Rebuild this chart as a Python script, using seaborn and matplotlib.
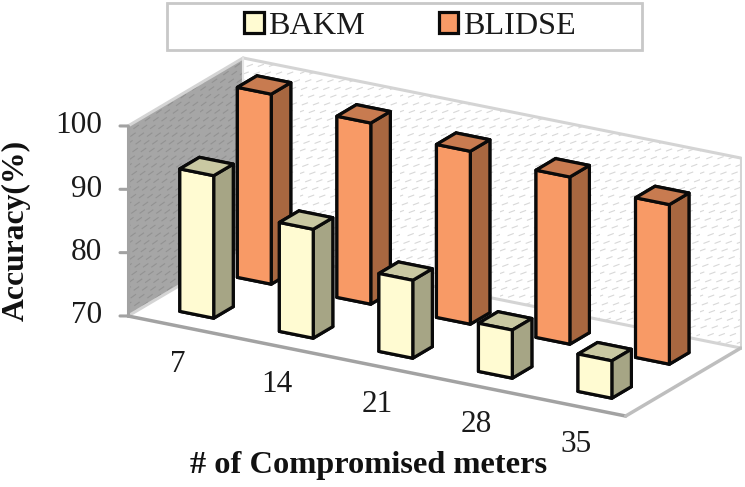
import numpy as np
import pandas as pd
import seaborn as sns
import matplotlib
matplotlib.use("Agg")
import matplotlib.pyplot as plt
from matplotlib import hatch as mhatch
from matplotlib.path import Path
from matplotlib.patches import Patch, Rectangle
from mpl_toolkits.mplot3d import proj3d
from mpl_toolkits.mplot3d.art3d import Poly3DCollection

meters = [7, 14, 21, 28, 35]
bakm = [92.5, 87.2, 82.3, 77.6, 75.9]
blidse = [100.0, 98.6, 97.3, 96.4, 95.2]
yticks = [70, 80, 90, 100]
series_names = ["BAKM", "BLIDSE"]

df = pd.DataFrame({"meters": meters, "BAKM": bakm, "BLIDSE": blidse}).melt(
    id_vars="meters", var_name="method", value_name="accuracy")

W, H = 745, 487
sns.set_theme(style="white")
plt.rcParams["font.family"] = ["Liberation Serif", "DejaVu Serif"]
plt.rcParams["hatch.linewidth"] = 0.8


class WallDash(mhatch.HatchPatternBase):
    """Short slanted dashes, as in the spreadsheet's wall texture."""
    layouts = {"O": (9, 13, 5.5, 0.36), "*": (12, 13, 5.5, 0.62)}

    def __init__(self, hatch, density):
        self.spec = next((self.layouts[c] for c in hatch if c in self.layouts), None)
        self.num_vertices = 0 if self.spec is None else 2 * self.spec[0] * self.spec[1]

    def set_vertices_and_codes(self, vertices, codes):
        nx, ny, length, angle = self.spec
        ln = length / 100.0
        k = 0
        for r in range(ny):
            for c in range(nx):
                cx = (c + 0.37 * r) / nx % 1.0
                cy = (r + 0.5) / ny
                dx, dy = ln * np.cos(angle) / 2, ln * np.sin(angle) / 2
                vertices[k] = (cx - dx, cy - dy)
                vertices[k + 1] = (cx + dx, cy + dy)
                codes[k] = Path.MOVETO
                codes[k + 1] = Path.LINETO
                k += 2


mhatch._hatch_types = [t for t in mhatch._hatch_types
                       if t.__name__ not in ("LargeCircles", "Stars")] + [WallDash]

fig = plt.figure(figsize=(W / 100, H / 100), dpi=100, facecolor="white")
ax = fig.add_axes([0, 0, 1, 1], projection="3d", computed_zorder=False)
ax.set_proj_type("ortho")
ax.view_init(elev=20.16, azim=-59.75)
ax.set_box_aspect((575, 228, 202))
ax.set_xlim(0, 5, view_margin=0)
ax.set_ylim(0, 2, view_margin=0)
ax.set_zlim(70, 100, view_margin=0)
ax.set_axis_off()
ax.patch.set_alpha(0)

# walls
x0, x1, y0, y1, z0, z1 = 0, 5, 0, 2, 70, 100
back = [[(x0, y1, z0), (x1, y1, z0), (x1, y1, z1), (x0, y1, z1)]]
left = [[(x0, y0, z0), (x0, y1, z0), (x0, y1, z1), (x0, y0, z1)]]
pb = Poly3DCollection(back, facecolor="white", edgecolor="#D8D8D8", linewidth=0, hatch="O", zorder=1)
pl = Poly3DCollection(left, facecolor="#A6A6A6", edgecolor="#929292", linewidth=0, hatch="*", zorder=1)
ax.add_collection3d(pb, autolim=False)
ax.add_collection3d(pl, autolim=False)


def edge(a, b, color, lw=2.2, z=2):
    ax.plot([a[0], b[0]], [a[1], b[1]], [a[2], b[2]], color=color, lw=lw, zorder=z,
            solid_capstyle="round")


LIGHT, MID = "#D4D4D4", "#A2A2A2"
edge((x0, y0, z1), (x0, y1, z1), LIGHT)
edge((x0, y1, z1), (x1, y1, z1), LIGHT)
edge((x1, y1, z0), (x1, y1, z1), LIGHT)
edge((x0, y1, z0), (x1, y1, z0), LIGHT)
edge((x0, y0, z0), (x0, y1, z0), LIGHT)
edge((x0, y1, z0), (x0, y1, z1), "#E4E4E4", lw=1.5)
edge((x0, y0, z0), (x0, y0, z1), MID)
edge((x0, y0, z0), (x1, y0, z0), MID, lw=2.5)
edge((x1, y0, z0), (x1, y1, z0), "#BEBEBE", lw=2.5)

# y ticks: offset along the screen horizontal, made of x and y depth steps
tx, ty = -0.0605, -0.0345
for t in yticks:
    edge((tx, ty, t), (0, 0, t), MID)

faces = {
    "BAKM": dict(front="#FFFBD2", side="#A6A585", top="#C9C8A2", y=0.33, z=4),
    "BLIDSE": dict(front="#F89A66", side="#A86740", top="#C87B50", y=1.33, z=3),
}
w = 0.34
for name in ["BLIDSE", "BAKM"]:
    f = faces[name]
    sub = df[df.method == name]
    for i, val in enumerate(sub.accuracy):
        # bottom, top, -y (front), +y, -x, +x (side)
        cols = [f["front"], f["top"], f["front"], f["side"], f["side"], f["side"]]
        ax.bar3d(i + 0.33, f["y"], 70, w, w, val - 70, color=cols,
                 edgecolor="#0a0a0a", linewidth=2.3, shade=False, zorder=f["z"])

# legend: box and entries
fig.add_artist(Rectangle((167 / W, 1 - 49.5 / H), (642 - 167) / W, 46.5 / H, transform=fig.transFigure,
                         facecolor="white", edgecolor="#C8C8C8", linewidth=2.0, zorder=4))
handles = [Patch(facecolor=faces[n]["front"], edgecolor="#0a0a0a", linewidth=2.3, label=n)
           for n in series_names]
leg = fig.legend(handles=handles, loc="center", bbox_to_anchor=(410 / W, 1 - 26.5 / H),
                 ncols=2, fontsize=23.2, frameon=False, handlelength=0.6,
                 handleheight=0.6, handletextpad=0.14, borderaxespad=0, borderpad=0,
                 columnspacing=2.3, labelspacing=0, labelcolor="#1a1a1a")
leg.set_zorder(5)

fig.text(16 / W, 1 - 230 / H, "Accuracy(%)", rotation=90, ha="center", va="center",
         fontsize=22.8, fontweight="bold", color="#111111")
fig.text(369 / W, 1 - 466 / H, "# of Compromised meters", ha="center", va="center",
         fontsize=23.3, fontweight="bold", color="#111111")

# fit the box onto the reference's frame
t_a = np.array([128.0, H - 316.0])
t_b = np.array([740.0, H - 155.0])
L, B, S = 0.0, 0.0, float(W)


def px(x, y, z):
    fig.canvas.draw()
    X, Y, _ = proj3d.proj_transform(x, y, z, ax.get_proj())
    return ax.transData.transform((X, Y))


for _ in range(3):
    ax.set_position([L / W, B / H, S / W, S / H])
    a, b = px(x0, y0, z0), px(x1, y1, z1)
    S *= np.linalg.norm(t_b - t_a) / np.linalg.norm(b - a)
    ax.set_position([L / W, B / H, S / W, S / H])
    a = px(x0, y0, z0)
    L += t_a[0] - a[0]
    B += t_a[1] - a[1]
ax.set_position([L / W, B / H, S / W, S / H])
fig.canvas.draw()


def label3d(x, y, z, text, **kw):
    X, Y, _ = proj3d.proj_transform(x, y, z, ax.get_proj())
    ax.text2D(X, Y, text, transform=ax.transData, color="#1a1a1a", **kw)


for t in yticks:
    label3d(3.25 * tx, 3.25 * ty, t, str(t), ha="right", va="center", fontsize=22.5)
for i, m in enumerate(meters):
    label3d(i + 0.5, 0, 63.9, str(m), ha="center", va="center", fontsize=22.5)

fig.savefig("out.png", dpi=100)
